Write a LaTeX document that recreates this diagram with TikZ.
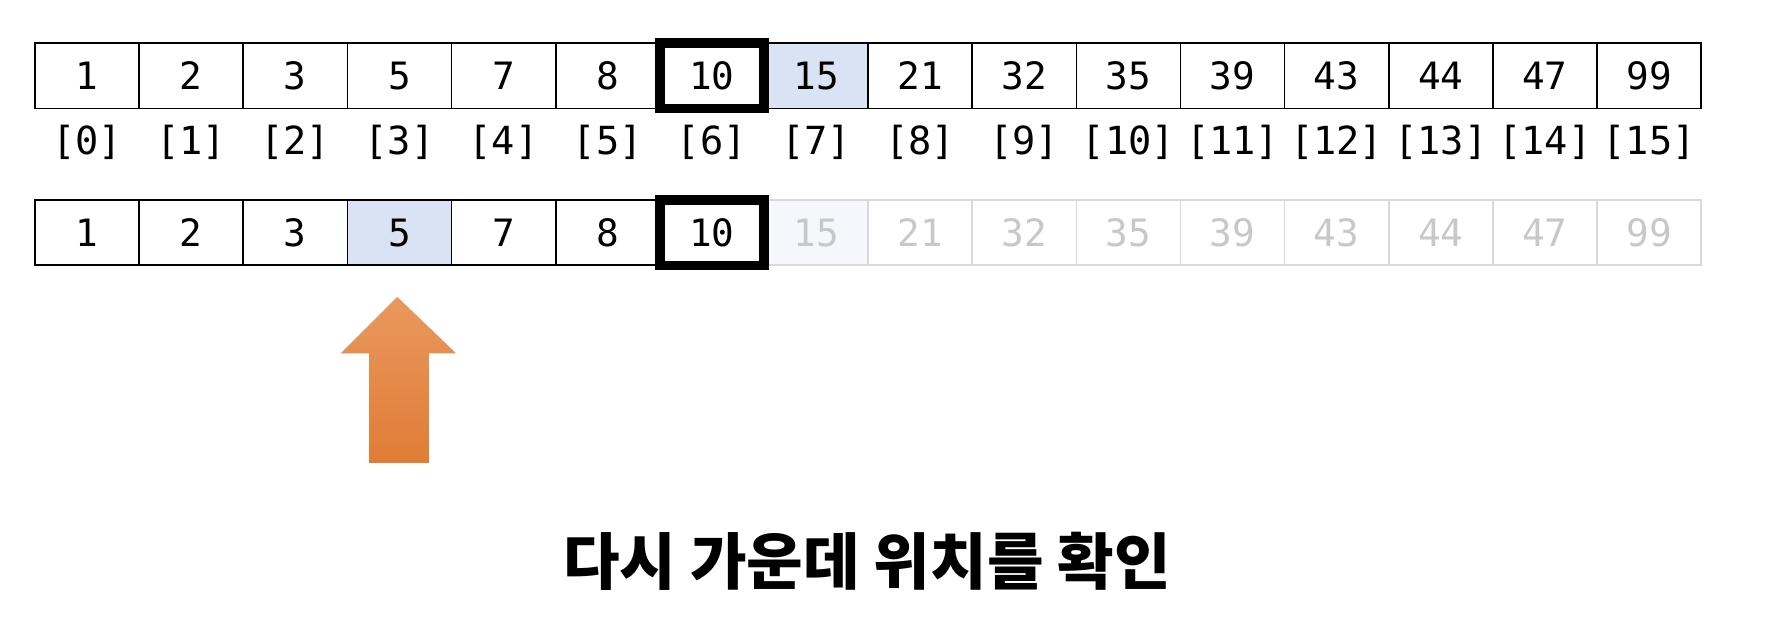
\documentclass[tikz,border=0pt]{standalone}
\usepackage{fontspec}
\setmonofont{DejaVu Sans Mono}
\newfontfamily\kofont{Noto Sans CJK KR}
\definecolor{cellblue}{RGB}{218,227,243}
\definecolor{fadeblue}{RGB}{245,247,252}
\definecolor{fadeline}{RGB}{217,217,217}
\definecolor{fadetext}{RGB}{200,200,200}
\definecolor{arrowtop}{RGB}{234,152,94}
\definecolor{arrowbot}{RGB}{224,124,54}
\begin{document}
\begin{tikzpicture}[x=0.02cm, y=-0.02cm,
	cell/.style={draw, line width=0.8pt, rectangle, inner sep=0pt, minimum width=1.845cm, minimum height=1.16cm, font=\ttfamily\fontsize{19}{19}\selectfont},
	fadecell/.style={cell, draw=fadeline, text=fadetext},
	idx/.style={inner sep=0pt, font=\ttfamily\fontsize{19.5}{19.5}\selectfont},
	midbox/.style={draw, line width=4.8pt, rectangle, inner sep=0pt, minimum width=1.845cm, minimum height=1.16cm}]
	\useasboundingbox (0,0) rectangle (1568,551);

	\node[cell] (A-00) at (  77.1, 67) {1};
	\node[cell] (A-01) at ( 169.4, 67) {2};
	\node[cell] (A-02) at ( 261.6, 67) {3};
	\node[cell] (A-03) at ( 353.9, 67) {5};
	\node[cell] (A-04) at ( 446.1, 67) {7};
	\node[cell] (A-05) at ( 538.4, 67) {8};
	\node[cell] (A-06) at ( 630.6, 67) {10};
	\node[cell, fill=cellblue] (A-07) at ( 722.9, 67) {15};
	\node[cell] (A-08) at ( 815.1, 67) {21};
	\node[cell] (A-09) at ( 907.4, 67) {32};
	\node[cell] (A-10) at ( 999.6, 67) {35};
	\node[cell] (A-11) at (1091.9, 67) {39};
	\node[cell] (A-12) at (1184.1, 67) {43};
	\node[cell] (A-13) at (1276.4, 67) {44};
	\node[cell] (A-14) at (1368.6, 67) {47};
	\node[cell] (A-15) at (1460.9, 67) {99};

	\node[idx] (I-00) at (  77.1, 126) {[0]};
	\node[idx] (I-01) at ( 169.4, 126) {[1]};
	\node[idx] (I-02) at ( 261.6, 126) {[2]};
	\node[idx] (I-03) at ( 353.9, 126) {[3]};
	\node[idx] (I-04) at ( 446.1, 126) {[4]};
	\node[idx] (I-05) at ( 538.4, 126) {[5]};
	\node[idx] (I-06) at ( 630.6, 126) {[6]};
	\node[idx] (I-07) at ( 722.9, 126) {[7]};
	\node[idx] (I-08) at ( 815.1, 126) {[8]};
	\node[idx] (I-09) at ( 907.4, 126) {[9]};
	\node[idx] (I-10) at ( 999.6, 126) {[10]};
	\node[idx] (I-11) at (1091.9, 126) {[11]};
	\node[idx] (I-12) at (1184.1, 126) {[12]};
	\node[idx] (I-13) at (1276.4, 126) {[13]};
	\node[idx] (I-14) at (1368.6, 126) {[14]};
	\node[idx] (I-15) at (1460.9, 126) {[15]};

	\node[fadecell, fill=fadeblue] (B-07) at ( 722.9, 206) {15};
	\node[fadecell] (B-08) at ( 815.1, 206) {21};
	\node[fadecell] (B-09) at ( 907.4, 206) {32};
	\node[fadecell] (B-10) at ( 999.6, 206) {35};
	\node[fadecell] (B-11) at (1091.9, 206) {39};
	\node[fadecell] (B-12) at (1184.1, 206) {43};
	\node[fadecell] (B-13) at (1276.4, 206) {44};
	\node[fadecell] (B-14) at (1368.6, 206) {47};
	\node[fadecell] (B-15) at (1460.9, 206) {99};

	\node[cell] (B-00) at (  77.1, 206) {1};
	\node[cell] (B-01) at ( 169.4, 206) {2};
	\node[cell] (B-02) at ( 261.6, 206) {3};
	\node[cell, fill=cellblue] (B-03) at ( 353.9, 206) {5};
	\node[cell] (B-04) at ( 446.1, 206) {7};
	\node[cell] (B-05) at ( 538.4, 206) {8};
	\node[cell] (B-06) at ( 630.6, 206) {10};

	\node[midbox] (A-M06) at (A-06) {};
	\node[midbox] (B-M06) at (B-06) {};

	\shade[top color=arrowtop, bottom color=arrowbot] (352,263) -- (404,313) -- (380,313) -- (380,410) -- (327,410) -- (327,313) -- (302,313) -- cycle;

	\node[inner sep=0pt, font=\kofont\bfseries\fontsize{31}{31}\selectfont] (caption) at (768, 497) {다시 가운데 위치를 확인};

\end{tikzpicture}
\end{document}
